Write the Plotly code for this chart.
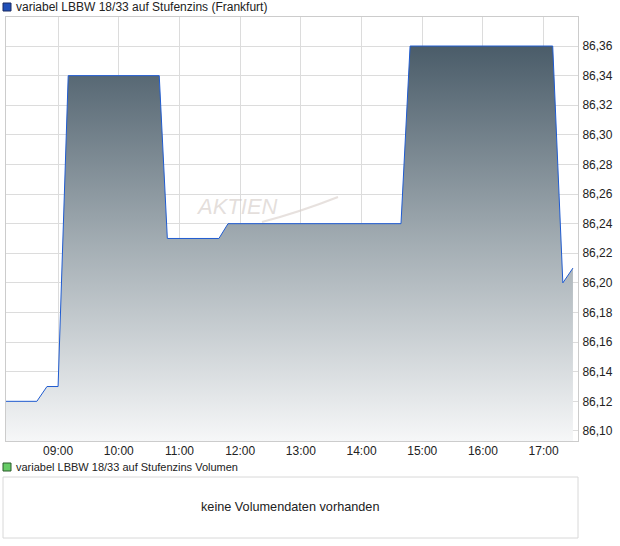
import plotly.graph_objects as go

# ---- data ----
DAY = "2024-01-02 "
times = ["08:08", "08:39", "08:49", "09:00", "09:10", "10:40", "10:48",
         "11:39", "11:48", "14:39", "14:48", "17:09", "17:19", "17:29"]
prices = [86.12, 86.12, 86.13, 86.13, 86.34, 86.34, 86.23,
          86.23, 86.24, 86.24, 86.36, 86.36, 86.20, 86.21]
y_ticks = [86.10, 86.12, 86.14, 86.16, 86.18, 86.20, 86.22, 86.24,
           86.26, 86.28, 86.30, 86.32, 86.34, 86.36]
x_tick_labels = ["09:00", "10:00", "11:00", "12:00", "13:00",
                 "14:00", "15:00", "16:00", "17:00"]
title_main = "variabel LBBW 18/33 auf Stufenzins (Frankfurt)"
title_vol = "variabel LBBW 18/33 auf Stufenzins Volumen"
no_vol_text = "keine Volumendaten vorhanden"

W, H = 620, 546
def px(x):
    return x / W
def py(y):
    return 1 - y / H

FONT = "Liberation Sans, Arial, sans-serif"

x_vals = [DAY + t for t in times]

fig = go.Figure()
fig.add_trace(go.Scatter(
    x=x_vals, y=prices, mode="lines",
    line=dict(color="#1f5bd0", width=1),
    fill="tozeroy",
    fillgradient=dict(type="vertical",
                      colorscale=[[0, "#f6f7f8"], [0.5, "#a3adb3"], [1, "#4a5c69"]],
                      start=86.093, stop=86.36),
    hoverinfo="skip", showlegend=False,
))

fig.update_layout(
    width=W, height=H,
    margin=dict(l=0, r=0, t=0, b=0),
    paper_bgcolor="white", plot_bgcolor="white",
    separators=",.",
    font=dict(family=FONT, size=12, color="#222222"),
    showlegend=False,
    xaxis=dict(
        domain=[px(6), px(578)],
        range=[DAY + "08:08:30", DAY + "17:34"],
        tickvals=[DAY + t for t in x_tick_labels],
        ticktext=x_tick_labels,
        showgrid=True, gridcolor="#dcdcdc", gridwidth=1,
        showline=True, linecolor="#cccccc", mirror=True,
        ticks="", ticklabelstandoff=-1,
        tickfont=dict(size=12, color="#222222"),
        zeroline=False, automargin=False,
    ),
    yaxis=dict(
        domain=[py(441), py(17)],
        range=[86.0932, 86.3796],
        side="right",
        tickvals=y_ticks,
        tickformat=".2f",
        showgrid=True, gridcolor="#dcdcdc", gridwidth=1,
        showline=True, linecolor="#cccccc", mirror=True,
        ticks="", ticklabelstandoff=1,
        tickfont=dict(size=12, color="#222222"),
        zeroline=False, automargin=False,
    ),
)

shapes = [
    # legend squares
    dict(type="rect", xref="paper", yref="paper",
         x0=px(3), x1=px(11), y0=py(11), y1=py(3),
         fillcolor="#1f4fb8", line=dict(color="#1a2a60", width=1)),
    dict(type="rect", xref="paper", yref="paper",
         x0=px(3), x1=px(11), y0=py(471), y1=py(463),
         fillcolor="#66cc66", line=dict(color="#2a5a2a", width=1)),
    # volume box
    dict(type="rect", xref="paper", yref="paper",
         x0=px(3), x1=px(578), y0=py(538), y1=py(477),
         fillcolor="rgba(0,0,0,0)", line=dict(color="#d8d8d8", width=1)),
    # watermark swoosh
    dict(type="path", xref="paper", yref="paper",
         path=f"M {px(262)},{py(222)} Q {px(300)},{py(212)} {px(338)},{py(197)}",
         line=dict(color="rgba(215,205,200,0.6)", width=2)),
]

annotations = [
    dict(x=px(14), y=py(7), xref="paper", yref="paper", text=title_main,
         showarrow=False, xanchor="left", yanchor="middle",
         font=dict(size=12, color="#222222", family=FONT)),
    dict(x=px(14), y=py(467), xref="paper", yref="paper", text=title_vol,
         showarrow=False, xanchor="left", yanchor="middle",
         font=dict(size=11, color="#222222", family=FONT)),
    dict(x=px(290), y=py(507), xref="paper", yref="paper", text=no_vol_text,
         showarrow=False, xanchor="center", yanchor="middle",
         font=dict(size=12.7, color="#222222", family=FONT)),
    dict(x=px(237), y=py(206), xref="paper", yref="paper", text="<i>AKTIEN</i>",
         showarrow=False, xanchor="center", yanchor="middle",
         font=dict(size=22, color="rgba(205,195,190,0.55)", family=FONT)),
]

fig.update_layout(shapes=shapes, annotations=annotations)
fig.write_html("out.html",
               config={"displayModeBar": False, "staticPlot": True},
               post_script="document.body.style.margin='0';document.body.style.overflow='hidden';")
